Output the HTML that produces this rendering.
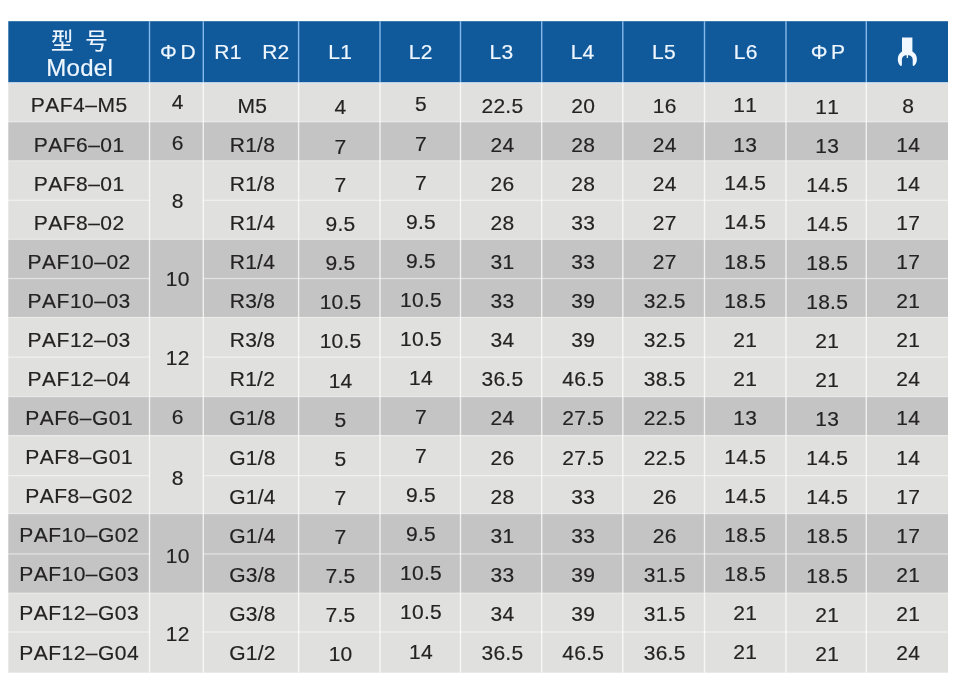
<!DOCTYPE html>
<html lang="zh-CN">
<head>
<meta charset="utf-8">
<title>PAF Model Table</title>
<style>
html,body{margin:0;padding:0;background:#fff;}
body{width:967px;height:687px;position:relative;overflow:hidden;font-family:"Liberation Sans","Noto Sans CJK SC",sans-serif;}
.bg{position:absolute;}
.ln{position:absolute;}
.t{position:absolute;display:flex;align-items:center;justify-content:center;white-space:nowrap;font-size:21px;line-height:20px;color:#242222;height:20px;font-kerning:none;-webkit-text-stroke:0.18px #242222;letter-spacing:0.25px;}
.m{letter-spacing:0.5px;text-indent:0.6px;}
.h{color:#eef6ff;-webkit-text-stroke:0.2px #eef6ff;font-size:21px;}
</style>
</head>
<body>

<svg class="bg" style="left:0;top:0" width="967" height="687" viewBox="0 0 967 687" shape-rendering="geometricPrecision">
<rect x="8.3" y="21.2" width="939.7" height="61.5" fill="#10599b"/>
<rect x="8.3" y="82.4" width="939.7" height="39.4" fill="#e0e0de"/>
<rect x="8.3" y="121.8" width="939.7" height="39" fill="#c4c4c4"/>
<rect x="8.3" y="160.8" width="939.7" height="78.6" fill="#e0e0de"/>
<rect x="8.3" y="239.4" width="939.7" height="78.1" fill="#c4c4c4"/>
<rect x="8.3" y="317.5" width="939.7" height="79.1" fill="#e0e0de"/>
<rect x="8.3" y="396.6" width="939.7" height="39" fill="#c4c4c4"/>
<rect x="8.3" y="435.6" width="939.7" height="78" fill="#e0e0de"/>
<rect x="8.3" y="513.6" width="939.7" height="79.4" fill="#c4c4c4"/>
<rect x="8.3" y="593" width="939.7" height="79.7" fill="#e0e0de"/>
<rect x="8.3" y="82.5" width="939.7" height="1.2" fill="#d6e4f1"/>
<rect x="8.3" y="121.15" width="939.7" height="1.3" fill="#fff" fill-opacity=".38"/>
<rect x="8.3" y="160.15" width="939.7" height="1.3" fill="#fff" fill-opacity=".38"/>
<rect x="8.3" y="199.65" width="141.2" height="1.3" fill="#fff" fill-opacity=".5"/>
<rect x="203.3" y="199.65" width="744.7" height="1.3" fill="#fff" fill-opacity=".5"/>
<rect x="8.3" y="238.75" width="939.7" height="1.3" fill="#fff" fill-opacity=".38"/>
<rect x="8.3" y="277.85" width="141.2" height="1.3" fill="#fff" fill-opacity=".5"/>
<rect x="203.3" y="277.85" width="744.7" height="1.3" fill="#fff" fill-opacity=".5"/>
<rect x="8.3" y="316.85" width="939.7" height="1.3" fill="#fff" fill-opacity=".38"/>
<rect x="8.3" y="356.45" width="141.2" height="1.3" fill="#fff" fill-opacity=".5"/>
<rect x="203.3" y="356.45" width="744.7" height="1.3" fill="#fff" fill-opacity=".5"/>
<rect x="8.3" y="395.95" width="939.7" height="1.3" fill="#fff" fill-opacity=".38"/>
<rect x="8.3" y="434.95" width="939.7" height="1.3" fill="#fff" fill-opacity=".38"/>
<rect x="8.3" y="474.95" width="141.2" height="1.3" fill="#fff" fill-opacity=".5"/>
<rect x="203.3" y="474.95" width="744.7" height="1.3" fill="#fff" fill-opacity=".5"/>
<rect x="8.3" y="512.95" width="939.7" height="1.3" fill="#fff" fill-opacity=".38"/>
<rect x="8.3" y="553.25" width="141.2" height="1.3" fill="#fff" fill-opacity=".5"/>
<rect x="203.3" y="553.25" width="744.7" height="1.3" fill="#fff" fill-opacity=".5"/>
<rect x="8.3" y="592.35" width="939.7" height="1.3" fill="#fff" fill-opacity=".38"/>
<rect x="8.3" y="631.35" width="141.2" height="1.3" fill="#fff" fill-opacity=".5"/>
<rect x="203.3" y="631.35" width="744.7" height="1.3" fill="#fff" fill-opacity=".5"/>
<rect x="148.8" y="21.2" width="1.4" height="61.2" fill="#86b9ea"/>
<rect x="148.8" y="82.4" width="1.4" height="590.3" fill="#fff" fill-opacity=".74"/>
<rect x="202.6" y="21.2" width="1.4" height="61.2" fill="#86b9ea"/>
<rect x="202.6" y="82.4" width="1.4" height="590.3" fill="#fff" fill-opacity=".74"/>
<rect x="297.9" y="21.2" width="1.4" height="61.2" fill="#86b9ea"/>
<rect x="297.9" y="82.4" width="1.4" height="590.3" fill="#fff" fill-opacity=".74"/>
<rect x="379.3" y="21.2" width="1.4" height="61.2" fill="#86b9ea"/>
<rect x="379.3" y="82.4" width="1.4" height="590.3" fill="#fff" fill-opacity=".74"/>
<rect x="459.8" y="21.2" width="1.4" height="61.2" fill="#86b9ea"/>
<rect x="459.8" y="82.4" width="1.4" height="590.3" fill="#fff" fill-opacity=".74"/>
<rect x="541" y="21.2" width="1.4" height="61.2" fill="#86b9ea"/>
<rect x="541" y="82.4" width="1.4" height="590.3" fill="#fff" fill-opacity=".74"/>
<rect x="622.1" y="21.2" width="1.4" height="61.2" fill="#86b9ea"/>
<rect x="622.1" y="82.4" width="1.4" height="590.3" fill="#fff" fill-opacity=".74"/>
<rect x="703.8" y="21.2" width="1.4" height="61.2" fill="#86b9ea"/>
<rect x="703.8" y="82.4" width="1.4" height="590.3" fill="#fff" fill-opacity=".74"/>
<rect x="785.3" y="21.2" width="1.4" height="61.2" fill="#86b9ea"/>
<rect x="785.3" y="82.4" width="1.4" height="590.3" fill="#fff" fill-opacity=".74"/>
<rect x="865.6" y="21.2" width="1.4" height="61.2" fill="#86b9ea"/>
<rect x="865.6" y="82.4" width="1.4" height="590.3" fill="#fff" fill-opacity=".74"/>
</svg>
<div class="t h" style="left:8.3px;width:141.2px;top:30.3px;height:24px;line-height:24px;font-size:22.4px;margin-left:0.6px;">型<span style="margin-left:11.5px">号</span></div>
<div class="t h" style="left:8.3px;width:141.2px;top:54.6px;height:26px;line-height:26px;font-size:24px;letter-spacing:0.3px;margin-left:0.8px;">Model</div>
<div class="t h" style="left:149.5px;width:53.8px;top:42.4px;margin-left:1.6px;">Φ<span style="margin-left:3.5px">D</span></div>
<div class="t h" style="left:203.3px;width:95.3px;top:42.4px;margin-left:1px;">R1<span style="margin-left:20.5px">R2</span></div>
<div class="t h" style="left:298.6px;width:81.4px;top:42.4px;margin-left:1.0px;">L1</div>
<div class="t h" style="left:380px;width:80.5px;top:42.4px;margin-left:0.4px;">L2</div>
<div class="t h" style="left:460.5px;width:81.2px;top:42.4px;margin-left:0.4px;">L3</div>
<div class="t h" style="left:541.7px;width:81.1px;top:42.4px;margin-left:0.4px;">L4</div>
<div class="t h" style="left:622.8px;width:81.7px;top:42.4px;margin-left:0.4px;">L5</div>
<div class="t h" style="left:704.5px;width:81.5px;top:42.4px;margin-left:0.4px;">L6</div>
<div class="t h" style="left:786px;width:80.3px;top:42.4px;margin-left:1.9px;">Φ<span style="margin-left:3.3px">P</span></div>
<svg class="bg" style="left:892px;top:32px" width="32" height="40" viewBox="892 32 32 40"><path fill="#f1f8ff" d="M902 37.6 H912.4 V51.6 C915.4 53.2 917 56.2 916.9 59.4 C916.8 62.2 915.8 64.4 913.8 66.1 L912.7 65.5 V59.6 C912.6 57.2 911.2 55.6 908.9 55.2 L908 55.2 V58 H906.7 V55.2 L905.7 55.2 C903.4 55.6 902 57.2 901.9 59.6 V65.5 L900.7 66.1 C898.8 64.4 897.9 62.2 897.8 59.4 C897.7 56.2 899.2 53.2 902 51.6 Z"/></svg>
<div class="t m" style="left:8.3px;width:141.2px;top:95.4px;">PAF4–M5</div>
<div class="t " style="left:149.5px;width:53.8px;top:92px;margin-left:1.4px;">4</div>
<div class="t " style="left:203.3px;width:95.3px;top:95.8px;margin-left:1.5px;">M5</div>
<div class="t " style="left:298.6px;width:81.4px;top:97px;margin-left:1.3px;">4</div>
<div class="t " style="left:380px;width:80.5px;top:94.4px;margin-left:0.8px;">5</div>
<div class="t " style="left:460.5px;width:81.2px;top:95.8px;margin-left:1.3px;">22.5</div>
<div class="t " style="left:541.7px;width:81.1px;top:95.8px;margin-left:1.0px;">20</div>
<div class="t " style="left:622.8px;width:81.7px;top:95.8px;margin-left:1.0px;">16</div>
<div class="t " style="left:704.5px;width:81.5px;top:95.2px;margin-left:0.0px;">11</div>
<div class="t " style="left:786px;width:80.3px;top:96.6px;margin-left:1.0px;">11</div>
<div class="t " style="left:866.3px;width:81.7px;top:95.8px;margin-left:1.0px;">8</div>
<div class="t m" style="left:8.3px;width:141.2px;top:134.98px;">PAF6–01</div>
<div class="t " style="left:149.5px;width:53.8px;top:132.6px;margin-left:1.4px;">6</div>
<div class="t " style="left:203.3px;width:95.3px;top:135.38px;margin-left:1.5px;">R1/8</div>
<div class="t " style="left:298.6px;width:81.4px;top:136.58px;margin-left:1.3px;">7</div>
<div class="t " style="left:380px;width:80.5px;top:133.98px;margin-left:0.8px;">7</div>
<div class="t " style="left:460.5px;width:81.2px;top:135.38px;margin-left:1.3px;">24</div>
<div class="t " style="left:541.7px;width:81.1px;top:135.38px;margin-left:1.0px;">28</div>
<div class="t " style="left:622.8px;width:81.7px;top:135.38px;margin-left:1.0px;">24</div>
<div class="t " style="left:704.5px;width:81.5px;top:134.78px;margin-left:0.0px;">13</div>
<div class="t " style="left:786px;width:80.3px;top:136.18px;margin-left:1.0px;">13</div>
<div class="t " style="left:866.3px;width:81.7px;top:135.38px;margin-left:1.0px;">14</div>
<div class="t m" style="left:8.3px;width:141.2px;top:173.56px;">PAF8–01</div>
<div class="t " style="left:149.5px;width:53.8px;top:191.4px;margin-left:1.4px;">8</div>
<div class="t " style="left:203.3px;width:95.3px;top:173.96px;margin-left:1.5px;">R1/8</div>
<div class="t " style="left:298.6px;width:81.4px;top:175.16px;margin-left:1.3px;">7</div>
<div class="t " style="left:380px;width:80.5px;top:172.56px;margin-left:0.8px;">7</div>
<div class="t " style="left:460.5px;width:81.2px;top:173.96px;margin-left:1.3px;">26</div>
<div class="t " style="left:541.7px;width:81.1px;top:173.96px;margin-left:1.0px;">28</div>
<div class="t " style="left:622.8px;width:81.7px;top:173.96px;margin-left:1.0px;">24</div>
<div class="t " style="left:704.5px;width:81.5px;top:173.36px;margin-left:0.0px;">14.5</div>
<div class="t " style="left:786px;width:80.3px;top:174.76px;margin-left:1.0px;">14.5</div>
<div class="t " style="left:866.3px;width:81.7px;top:173.96px;margin-left:1.0px;">14</div>
<div class="t m" style="left:8.3px;width:141.2px;top:212.64px;">PAF8–02</div>
<div class="t " style="left:203.3px;width:95.3px;top:213.04px;margin-left:1.5px;">R1/4</div>
<div class="t " style="left:298.6px;width:81.4px;top:214.24px;margin-left:1.3px;">9.5</div>
<div class="t " style="left:380px;width:80.5px;top:211.64px;margin-left:0.8px;">9.5</div>
<div class="t " style="left:460.5px;width:81.2px;top:213.04px;margin-left:1.3px;">28</div>
<div class="t " style="left:541.7px;width:81.1px;top:213.04px;margin-left:1.0px;">33</div>
<div class="t " style="left:622.8px;width:81.7px;top:213.04px;margin-left:1.0px;">27</div>
<div class="t " style="left:704.5px;width:81.5px;top:212.44px;margin-left:0.0px;">14.5</div>
<div class="t " style="left:786px;width:80.3px;top:213.84px;margin-left:1.0px;">14.5</div>
<div class="t " style="left:866.3px;width:81.7px;top:213.04px;margin-left:1.0px;">17</div>
<div class="t m" style="left:8.3px;width:141.2px;top:251.72px;">PAF10–02</div>
<div class="t " style="left:149.5px;width:53.8px;top:268.8px;margin-left:1.4px;">10</div>
<div class="t " style="left:203.3px;width:95.3px;top:252.12px;margin-left:1.5px;">R1/4</div>
<div class="t " style="left:298.6px;width:81.4px;top:253.32px;margin-left:1.3px;">9.5</div>
<div class="t " style="left:380px;width:80.5px;top:250.72px;margin-left:0.8px;">9.5</div>
<div class="t " style="left:460.5px;width:81.2px;top:252.12px;margin-left:1.3px;">31</div>
<div class="t " style="left:541.7px;width:81.1px;top:252.12px;margin-left:1.0px;">33</div>
<div class="t " style="left:622.8px;width:81.7px;top:252.12px;margin-left:1.0px;">27</div>
<div class="t " style="left:704.5px;width:81.5px;top:251.52px;margin-left:0.0px;">18.5</div>
<div class="t " style="left:786px;width:80.3px;top:252.92px;margin-left:1.0px;">18.5</div>
<div class="t " style="left:866.3px;width:81.7px;top:252.12px;margin-left:1.0px;">17</div>
<div class="t m" style="left:8.3px;width:141.2px;top:290.8px;">PAF10–03</div>
<div class="t " style="left:203.3px;width:95.3px;top:291.2px;margin-left:1.5px;">R3/8</div>
<div class="t " style="left:298.6px;width:81.4px;top:292.4px;margin-left:1.3px;">10.5</div>
<div class="t " style="left:380px;width:80.5px;top:289.8px;margin-left:0.8px;">10.5</div>
<div class="t " style="left:460.5px;width:81.2px;top:291.2px;margin-left:1.3px;">33</div>
<div class="t " style="left:541.7px;width:81.1px;top:291.2px;margin-left:1.0px;">39</div>
<div class="t " style="left:622.8px;width:81.7px;top:291.2px;margin-left:1.0px;">32.5</div>
<div class="t " style="left:704.5px;width:81.5px;top:290.6px;margin-left:0.0px;">18.5</div>
<div class="t " style="left:786px;width:80.3px;top:292px;margin-left:1.0px;">18.5</div>
<div class="t " style="left:866.3px;width:81.7px;top:291.2px;margin-left:1.0px;">21</div>
<div class="t m" style="left:8.3px;width:141.2px;top:329.88px;">PAF12–03</div>
<div class="t " style="left:149.5px;width:53.8px;top:347.9px;margin-left:1.4px;">12</div>
<div class="t " style="left:203.3px;width:95.3px;top:330.28px;margin-left:1.5px;">R3/8</div>
<div class="t " style="left:298.6px;width:81.4px;top:331.48px;margin-left:1.3px;">10.5</div>
<div class="t " style="left:380px;width:80.5px;top:328.88px;margin-left:0.8px;">10.5</div>
<div class="t " style="left:460.5px;width:81.2px;top:330.28px;margin-left:1.3px;">34</div>
<div class="t " style="left:541.7px;width:81.1px;top:330.28px;margin-left:1.0px;">39</div>
<div class="t " style="left:622.8px;width:81.7px;top:330.28px;margin-left:1.0px;">32.5</div>
<div class="t " style="left:704.5px;width:81.5px;top:329.68px;margin-left:0.0px;">21</div>
<div class="t " style="left:786px;width:80.3px;top:331.08px;margin-left:1.0px;">21</div>
<div class="t " style="left:866.3px;width:81.7px;top:330.28px;margin-left:1.0px;">21</div>
<div class="t m" style="left:8.3px;width:141.2px;top:368.96px;">PAF12–04</div>
<div class="t " style="left:203.3px;width:95.3px;top:369.36px;margin-left:1.5px;">R1/2</div>
<div class="t " style="left:298.6px;width:81.4px;top:370.56px;margin-left:1.3px;">14</div>
<div class="t " style="left:380px;width:80.5px;top:367.96px;margin-left:0.8px;">14</div>
<div class="t " style="left:460.5px;width:81.2px;top:369.36px;margin-left:1.3px;">36.5</div>
<div class="t " style="left:541.7px;width:81.1px;top:369.36px;margin-left:1.0px;">46.5</div>
<div class="t " style="left:622.8px;width:81.7px;top:369.36px;margin-left:1.0px;">38.5</div>
<div class="t " style="left:704.5px;width:81.5px;top:368.76px;margin-left:0.0px;">21</div>
<div class="t " style="left:786px;width:80.3px;top:370.16px;margin-left:1.0px;">21</div>
<div class="t " style="left:866.3px;width:81.7px;top:369.36px;margin-left:1.0px;">24</div>
<div class="t m" style="left:8.3px;width:141.2px;top:408.04px;">PAF6–G01</div>
<div class="t " style="left:149.5px;width:53.8px;top:406.9px;margin-left:1.4px;">6</div>
<div class="t " style="left:203.3px;width:95.3px;top:408.44px;margin-left:1.5px;">G1/8</div>
<div class="t " style="left:298.6px;width:81.4px;top:409.64px;margin-left:1.3px;">5</div>
<div class="t " style="left:380px;width:80.5px;top:407.04px;margin-left:0.8px;">7</div>
<div class="t " style="left:460.5px;width:81.2px;top:408.44px;margin-left:1.3px;">24</div>
<div class="t " style="left:541.7px;width:81.1px;top:408.44px;margin-left:1.0px;">27.5</div>
<div class="t " style="left:622.8px;width:81.7px;top:408.44px;margin-left:1.0px;">22.5</div>
<div class="t " style="left:704.5px;width:81.5px;top:407.84px;margin-left:0.0px;">13</div>
<div class="t " style="left:786px;width:80.3px;top:409.24px;margin-left:1.0px;">13</div>
<div class="t " style="left:866.3px;width:81.7px;top:408.44px;margin-left:1.0px;">14</div>
<div class="t m" style="left:8.3px;width:141.2px;top:447.12px;">PAF8–G01</div>
<div class="t " style="left:149.5px;width:53.8px;top:467.5px;margin-left:1.4px;">8</div>
<div class="t " style="left:203.3px;width:95.3px;top:447.52px;margin-left:1.5px;">G1/8</div>
<div class="t " style="left:298.6px;width:81.4px;top:448.72px;margin-left:1.3px;">5</div>
<div class="t " style="left:380px;width:80.5px;top:446.12px;margin-left:0.8px;">7</div>
<div class="t " style="left:460.5px;width:81.2px;top:447.52px;margin-left:1.3px;">26</div>
<div class="t " style="left:541.7px;width:81.1px;top:447.52px;margin-left:1.0px;">27.5</div>
<div class="t " style="left:622.8px;width:81.7px;top:447.52px;margin-left:1.0px;">22.5</div>
<div class="t " style="left:704.5px;width:81.5px;top:446.92px;margin-left:0.0px;">14.5</div>
<div class="t " style="left:786px;width:80.3px;top:448.32px;margin-left:1.0px;">14.5</div>
<div class="t " style="left:866.3px;width:81.7px;top:447.52px;margin-left:1.0px;">14</div>
<div class="t m" style="left:8.3px;width:141.2px;top:486.2px;">PAF8–G02</div>
<div class="t " style="left:203.3px;width:95.3px;top:486.6px;margin-left:1.5px;">G1/4</div>
<div class="t " style="left:298.6px;width:81.4px;top:487.8px;margin-left:1.3px;">7</div>
<div class="t " style="left:380px;width:80.5px;top:485.2px;margin-left:0.8px;">9.5</div>
<div class="t " style="left:460.5px;width:81.2px;top:486.6px;margin-left:1.3px;">28</div>
<div class="t " style="left:541.7px;width:81.1px;top:486.6px;margin-left:1.0px;">33</div>
<div class="t " style="left:622.8px;width:81.7px;top:486.6px;margin-left:1.0px;">26</div>
<div class="t " style="left:704.5px;width:81.5px;top:486px;margin-left:0.0px;">14.5</div>
<div class="t " style="left:786px;width:80.3px;top:487.4px;margin-left:1.0px;">14.5</div>
<div class="t " style="left:866.3px;width:81.7px;top:486.6px;margin-left:1.0px;">17</div>
<div class="t m" style="left:8.3px;width:141.2px;top:525.28px;">PAF10–G02</div>
<div class="t " style="left:149.5px;width:53.8px;top:545.8px;margin-left:1.4px;">10</div>
<div class="t " style="left:203.3px;width:95.3px;top:525.68px;margin-left:1.5px;">G1/4</div>
<div class="t " style="left:298.6px;width:81.4px;top:526.88px;margin-left:1.3px;">7</div>
<div class="t " style="left:380px;width:80.5px;top:524.28px;margin-left:0.8px;">9.5</div>
<div class="t " style="left:460.5px;width:81.2px;top:525.68px;margin-left:1.3px;">31</div>
<div class="t " style="left:541.7px;width:81.1px;top:525.68px;margin-left:1.0px;">33</div>
<div class="t " style="left:622.8px;width:81.7px;top:525.68px;margin-left:1.0px;">26</div>
<div class="t " style="left:704.5px;width:81.5px;top:525.08px;margin-left:0.0px;">18.5</div>
<div class="t " style="left:786px;width:80.3px;top:526.48px;margin-left:1.0px;">18.5</div>
<div class="t " style="left:866.3px;width:81.7px;top:525.68px;margin-left:1.0px;">17</div>
<div class="t m" style="left:8.3px;width:141.2px;top:564.36px;">PAF10–G03</div>
<div class="t " style="left:203.3px;width:95.3px;top:564.76px;margin-left:1.5px;">G3/8</div>
<div class="t " style="left:298.6px;width:81.4px;top:565.96px;margin-left:1.3px;">7.5</div>
<div class="t " style="left:380px;width:80.5px;top:563.36px;margin-left:0.8px;">10.5</div>
<div class="t " style="left:460.5px;width:81.2px;top:564.76px;margin-left:1.3px;">33</div>
<div class="t " style="left:541.7px;width:81.1px;top:564.76px;margin-left:1.0px;">39</div>
<div class="t " style="left:622.8px;width:81.7px;top:564.76px;margin-left:1.0px;">31.5</div>
<div class="t " style="left:704.5px;width:81.5px;top:564.16px;margin-left:0.0px;">18.5</div>
<div class="t " style="left:786px;width:80.3px;top:565.56px;margin-left:1.0px;">18.5</div>
<div class="t " style="left:866.3px;width:81.7px;top:564.76px;margin-left:1.0px;">21</div>
<div class="t m" style="left:8.3px;width:141.2px;top:603.44px;">PAF12–G03</div>
<div class="t " style="left:149.5px;width:53.8px;top:624.2px;margin-left:1.4px;">12</div>
<div class="t " style="left:203.3px;width:95.3px;top:603.84px;margin-left:1.5px;">G3/8</div>
<div class="t " style="left:298.6px;width:81.4px;top:605.04px;margin-left:1.3px;">7.5</div>
<div class="t " style="left:380px;width:80.5px;top:602.44px;margin-left:0.8px;">10.5</div>
<div class="t " style="left:460.5px;width:81.2px;top:603.84px;margin-left:1.3px;">34</div>
<div class="t " style="left:541.7px;width:81.1px;top:603.84px;margin-left:1.0px;">39</div>
<div class="t " style="left:622.8px;width:81.7px;top:603.84px;margin-left:1.0px;">31.5</div>
<div class="t " style="left:704.5px;width:81.5px;top:603.24px;margin-left:0.0px;">21</div>
<div class="t " style="left:786px;width:80.3px;top:604.64px;margin-left:1.0px;">21</div>
<div class="t " style="left:866.3px;width:81.7px;top:603.84px;margin-left:1.0px;">21</div>
<div class="t m" style="left:8.3px;width:141.2px;top:642.52px;">PAF12–G04</div>
<div class="t " style="left:203.3px;width:95.3px;top:642.92px;margin-left:1.5px;">G1/2</div>
<div class="t " style="left:298.6px;width:81.4px;top:644.12px;margin-left:1.3px;">10</div>
<div class="t " style="left:380px;width:80.5px;top:641.52px;margin-left:0.8px;">14</div>
<div class="t " style="left:460.5px;width:81.2px;top:642.92px;margin-left:1.3px;">36.5</div>
<div class="t " style="left:541.7px;width:81.1px;top:642.92px;margin-left:1.0px;">46.5</div>
<div class="t " style="left:622.8px;width:81.7px;top:642.92px;margin-left:1.0px;">36.5</div>
<div class="t " style="left:704.5px;width:81.5px;top:642.32px;margin-left:0.0px;">21</div>
<div class="t " style="left:786px;width:80.3px;top:643.72px;margin-left:1.0px;">21</div>
<div class="t " style="left:866.3px;width:81.7px;top:642.92px;margin-left:1.0px;">24</div>
</body>
</html>
